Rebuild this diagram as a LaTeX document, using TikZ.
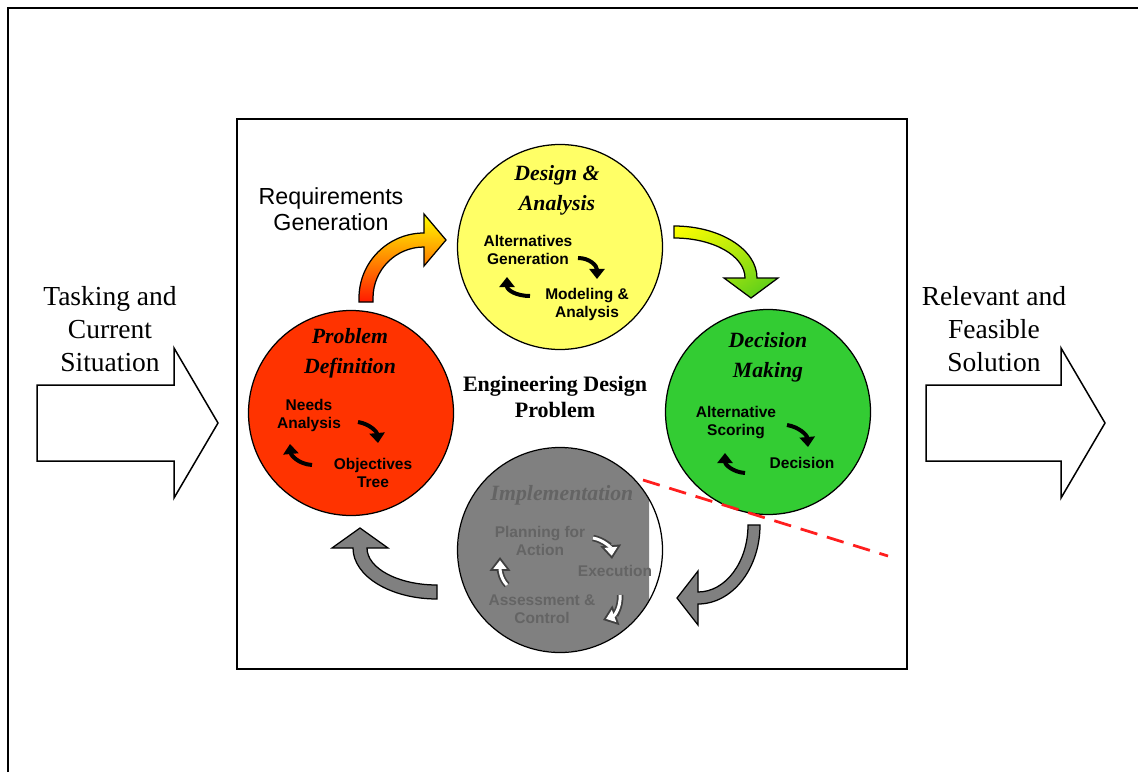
\documentclass[tikz,border=0pt]{standalone}
\usepackage{fontspec}
\setmainfont{Liberation Serif}
\setsansfont{Liberation Sans}
\usetikzlibrary{arrows.meta,shadings}

\definecolor{probred}{RGB}{255,51,0}
\definecolor{designyellow}{RGB}{255,255,102}
\definecolor{decigreen}{RGB}{51,204,51}
\definecolor{implgray}{RGB}{128,128,128}
\definecolor{impltext}{RGB}{100,100,100}
\definecolor{cutred}{RGB}{255,30,30}
\definecolor{headgreen}{RGB}{70,200,30}

\tikzset{
  frame/.style={line width=0.8pt, draw=black},
  phase/.style={circle, draw=black, line width=0.5pt, minimum size=82pt, inner sep=0pt},
  phasetitle/.style={align=center, font=\bfseries\itshape\fontsize{8.7}{12}\selectfont},
  subtask/.style={align=center, font=\sffamily\bfseries\fontsize{6.2}{7.2}\selectfont},
  sidelabel/.style={align=center, font=\fontsize{11}{13.2}\selectfont},
  blockarrow/.style={draw=black, line width=0.6pt, fill=white},
  bentarrow/.style={draw=black, line width=0.5pt},
  loopcue/.style={line width=1.6pt, -{Triangle[width=6pt,length=4pt]}},
  hollowout/.style={line width=2.6pt, draw=black!75, -{Triangle[width=8pt,length=5.5pt]}},
  hollowin/.style={line width=1.2pt, draw=white, shorten >=1.3pt, -{Triangle[width=5pt,length=3.4pt]}}
}

\begin{document}
\begin{tikzpicture}[x=0.4pt, y=-0.4pt]
\useasboundingbox (0,0) rectangle (1138,772);
\fill[white] (0,0) rectangle (1138,772);

% frames
\draw[frame] (8,772) -- (8,8) -- (1138,8);
\draw[frame] (237,119) rectangle (907,669);

% input and output
\draw[blockarrow] (37,385) -- (174,385) -- (174,348) -- (218,423) -- (174,498) -- (174,461) -- (37,461) -- cycle;
\draw[blockarrow] (926,385) -- (1061,385) -- (1061,348) -- (1105,423) -- (1061,498) -- (1061,461) -- (926,461) -- cycle;
\node[sidelabel] (task) at (110,329) {Tasking and\\Current\\Situation};
\node[sidelabel] (sol) at (994,329) {Relevant and\\Feasible\\Solution};

% phases
\node[phase, fill=designyellow] (da) at (560,247) {};
\node[phase, fill=probred] (pd) at (351,413) {};
\node[phase, fill=decigreen] (dm) at (768,412) {};
\begin{scope}
  \clip (440,440) rectangle (649,660);
  \fill[implgray] (560,550) circle[radius=102];
\end{scope}
\node[phase] (im) at (560,550) {};

\node[phasetitle] (datitle) at (557,190) {Design \&\\Analysis};
\node[phasetitle] (pdtitle) at (350,353) {Problem\\Definition};
\node[phasetitle] (dmtitle) at (768,357) {Decision\\Making};
\node[phasetitle, text=impltext] (imtitle) at (562,495) {Implementation};

\node[subtask] (altgen) at (528,250) {Alternatives\\Generation};
\node[subtask] (model) at (587,304) {Modeling \&\\Analysis};
\node[subtask] (needs) at (309,415) {Needs\\Analysis};
\node[subtask] (objtree) at (373,473) {Objectives\\Tree};
\node[subtask] (altscore) at (736,423) {Alternative\\Scoring};
\node[subtask] (decis) at (802,463) {Decision};
\node[subtask, text=impltext] (plan) at (540,541) {Planning for\\Action};
\node[subtask, text=impltext] (exec) at (615,571) {Execution};
\node[subtask, text=impltext] (assess) at (542,609) {Assessment \&\\Control};

\node[align=center, font=\bfseries\fontsize{8.8}{10.4}\selectfont] (edp) at (555,397) {Engineering Design\\Problem};
\node[align=center, font=\sffamily\fontsize{9.3}{10.6}\selectfont] (reqgen) at (331,209) {Requirements\\Generation};

% loops inside the phases
\draw[loopcue] (578,258) .. controls (590,258) and (597,266) .. (597,279);
\draw[loopcue] (530,296) .. controls (516,296) and (507,290) .. (507,277);
\draw[loopcue] (358,422) .. controls (370,424) and (377,432) .. (378,443);
\draw[loopcue] (312,465) .. controls (298,464) and (291,455) .. (290,444);
\draw[loopcue] (787,425) .. controls (799,427) and (807,435) .. (808,447);
\draw[loopcue] (745,473) .. controls (732,472) and (725,464) .. (725,453);
\foreach \s in {hollowout,hollowin} {
  \draw[\s] (593,538) .. controls (604,540) and (611,548) .. (612,559);
  \draw[\s] (620,595) .. controls (621,608) and (614,616) .. (603,620);
  \draw[\s] (507,585) .. controls (500,578) and (500,568) .. (500,557);
}

% arrows between phases
\shade[bentarrow, top color=yellow, bottom color=red!90!yellow]
  (359,302) -- (359,298) arc[start angle=180, end angle=270, radius=65]
  -- (424,214) -- (446,240) -- (424,266) -- (424,247)
  arc[start angle=270, end angle=180, radius=51] -- (373,302) -- cycle;
\shade[bentarrow, upper left=yellow, upper right=yellow!60!headgreen, lower left=yellow!60!headgreen, lower right=headgreen]
  (674,226) arc[start angle=270, end angle=360, x radius=83, y radius=52]
  -- (778,278) -- (751,298) -- (724,278) -- (745,278)
  arc[start angle=360, end angle=270, x radius=71, y radius=40] -- cycle;
\filldraw[bentarrow, fill=implgray]
  (760,525) arc[start angle=0, end angle=90, x radius=62, y radius=79]
  -- (698,625) -- (677,598) -- (698,571) -- (698,592)
  arc[start angle=90, end angle=0, x radius=50, y radius=67] -- cycle;
\filldraw[bentarrow, fill=implgray]
  (437,599) arc[start angle=90, end angle=180, x radius=84, y radius=51]
  -- (332,548) -- (360,528) -- (388,548) -- (367,548)
  arc[start angle=180, end angle=90, x radius=70, y radius=37] -- cycle;

% cut line
\coordinate (cutA) at (643,480);
\coordinate (cutB) at (888,556);
\draw[cutred, line width=1.1pt, dash pattern=on 7pt off 4pt] (cutA) -- (cutB);
\end{tikzpicture}
\end{document}
